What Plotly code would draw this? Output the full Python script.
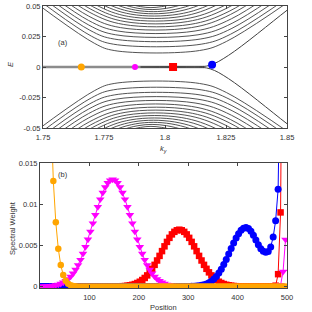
import plotly.graph_objects as go

# ---------------- panel (a): spectrum E(k_y) ----------------
# flat (bulk) level energies, positive side (negative side is the mirror image)
level_E = [0.0135, 0.0187, 0.0229, 0.0264, 0.0295, 0.0323, 0.0349, 0.0372,
           0.0394, 0.0414, 0.0433, 0.0450, 0.0466, 0.0481, 0.0495]
# k where the left edge branch of each level crosses |E| = 0.05
level_kL_top = [1.7500, 1.7528, 1.7555, 1.7580, 1.7605, 1.7630, 1.7655, 1.7678,
                1.7700, 1.7722, 1.7744, 1.7765, 1.7786, 1.7806, 1.7826]
# k where the right edge branch of each level crosses |E| = 0.05
level_kR_top = [1.8467, 1.8440, 1.8410, 1.8380, 1.8350, 1.8320, 1.8295, 1.8266,
                1.8240, 1.8210, 1.8185, 1.8155, 1.8130, 1.8100, 1.8070]
# width of the rounded bend between edge branch and flat level
level_wL = [0.0040, 0.0045, 0.0050, 0.0055, 0.0060, 0.0065, 0.0070, 0.0070,
            0.0070, 0.0070, 0.0070, 0.0070, 0.0070, 0.0070, 0.0070]
level_wR = [0.0055, 0.0060, 0.0065, 0.0070, 0.0075, 0.0080, 0.0080, 0.0080,
            0.0080, 0.0080, 0.0080, 0.0080, 0.0080, 0.0080, 0.0080]
slope_L = 1.45   # |dE/dk| of left edge branches
slope_R = 1.35   # |dE/dk| of right edge branches

# zero-energy band and its splitting near the right edge
zero_flat_k = [1.74, 1.816]
zero_flat_E = [0.0, 0.0]
zero_branch_k = [1.790, 1.812, 1.8185, 1.826, 1.850, 1.860]
zero_branch_E = [0.0, 0.0, 0.0015, 0.0095, 0.0465, 0.0620]

# highlighted states on the zero band
state_k = [1.7657, 1.7877, 1.8033, 1.8193]
state_E = [0.0, 0.0, 0.0, 0.0018]
state_color = ["#FFA500", "#FF00FF", "#FF0000", "#0000FF"]
state_symbol = ["circle", "circle", "square", "circle"]
state_size = [7, 6, 8, 8]

top_xticks = [1.75, 1.775, 1.8, 1.825, 1.85]
top_xtext = ["1.75", "1.775", "1.8", "1.825", "1.85"]
top_yticks = [0.05, 0.025, 0, -0.025, -0.05]
top_ytext = ["0.05", "0.025", "0", "-0.025", "-0.05"]

# ---------------- panel (b): spectral weight vs position ----------------
position = list(range(2, 500, 5))

w_orange = [0.16, 0.10, 0.060, 0.036, 0.0215, 0.0128, 0.0078, 0.0046, 0.0026, 0.0014,
            0.0007, 0.00035, 0.00016, 0.00007, 0.00003, 0, 0, 0, 0, 0,
            0, 0, 0, 0, 0, 0, 0, 0, 0, 0,
            0, 0, 0, 0, 0, 0, 0, 0, 0, 0,
            0, 0, 0, 0, 0, 0, 0, 0, 0, 0,
            0, 0, 0, 0, 0, 0, 0, 0, 0, 0,
            0, 0, 0, 0, 0, 0, 0, 0, 0, 0,
            0, 0, 0, 0, 0, 0, 0, 0, 0, 0,
            0, 0, 0, 0, 0, 0, 0, 0, 0, 0,
            0, 0, 0, 0, 0, 0, 0, 0, 0, 0]

w_magenta = [0.00001, 0.00001, 0.00002, 0.00005, 0.00008, 0.00011, 0.00017, 0.00024, 0.00035, 0.00049,
             0.00067, 0.00091, 0.00121, 0.00159, 0.00205, 0.00260, 0.00324, 0.00398, 0.00481, 0.00572,
             0.00668, 0.00768, 0.00869, 0.00967, 0.01059, 0.01140, 0.01207, 0.01258, 0.01289, 0.01300,
             0.01289, 0.01258, 0.01207, 0.01140, 0.01059, 0.00967, 0.00869, 0.00768, 0.00668, 0.00572,
             0.00481, 0.00398, 0.00324, 0.00260, 0.00205, 0.00159, 0.00121, 0.00091, 0.00067, 0.00049,
             0.00035, 0.00024, 0.00017, 0.00011, 0.00008, 0.00005, 0.00002, 0.00001, 0.00001, 0,
             0, 0, 0, 0, 0, 0, 0, 0, 0, 0,
             0, 0, 0, 0, 0, 0, 0, 0, 0, 0,
             0, 0, 0, 0, 0, 0, 0, 0, 0, 0,
             0, 0, 0, 0, 0, 0, 0, 0.0002, 0.0018, 0.0057]

w_red = [0, 0, 0, 0, 0, 0, 0, 0, 0, 0,
         0, 0, 0, 0, 0, 0, 0, 0, 0, 0,
         0, 0, 0, 0, 0, 0, 0, 0, 0, 0,
         0, 0, 0.00002, 0.00004, 0.00006, 0.00010, 0.00015, 0.00021, 0.00030, 0.00043,
         0.00058, 0.00079, 0.00104, 0.00135, 0.00172, 0.00215, 0.00263, 0.00316, 0.00372, 0.00430,
         0.00488, 0.00542, 0.00591, 0.00633, 0.00664, 0.00683, 0.00690, 0.00683, 0.00664, 0.00633,
         0.00591, 0.00542, 0.00488, 0.00430, 0.00372, 0.00316, 0.00263, 0.00215, 0.00172, 0.00135,
         0.00104, 0.00079, 0.00058, 0.00043, 0.00030, 0.00021, 0.00015, 0.00010, 0.00006, 0.00004,
         0.00002, 0, 0, 0, 0, 0, 0, 0, 0, 0,
         0, 0, 0, 0, 0, 0.0001, 0.0015, 0.0090, 0.035, 0.09]

w_blue = [0, 0, 0, 0, 0, 0, 0, 0, 0, 0,
          0, 0, 0, 0, 0, 0, 0, 0, 0, 0,
          0, 0, 0, 0, 0, 0, 0, 0, 0, 0,
          0, 0, 0, 0, 0, 0, 0, 0, 0, 0,
          0, 0, 0, 0, 0, 0, 0, 0, 0, 0,
          0, 0, 0, 0, 0, 0, 0, 0, 0, 0,
          0, 0.00002, 0.00003, 0.00005, 0.00009, 0.00014, 0.00021, 0.00031, 0.00046, 0.00065,
          0.00091, 0.00123, 0.00163, 0.00211, 0.00266, 0.00328, 0.00394, 0.00461, 0.00528, 0.00589,
          0.00641, 0.00682, 0.00707, 0.00716, 0.00705, 0.00672, 0.00622, 0.00565, 0.00508, 0.00460,
          0.00428, 0.00415, 0.00425, 0.00480, 0.00600, 0.00800, 0.01180, 0.0190, 0.035, 0.07]

bot_xticks = [100, 200, 300, 400, 500]
bot_yticks = [0, 0.005, 0.01, 0.015]
bot_ytext = ["0", "0.005", "0.01", "0.015"]

# ---------------- figure ----------------
W = H = 312
FONT = "Liberation Sans, Arial, sans-serif"
TXT = "#333333"
AX = "#444444"
BAND = "#404040"

fig = go.Figure()

# energy levels (positive and mirrored negative)
for E, kLt, kRt, wL, wR in zip(level_E, level_kL_top, level_kR_top, level_wL, level_wR):
    kcL = kLt + (0.05 - E) / slope_L
    kcR = kRt - (0.05 - E) / slope_R
    ks = [kLt - 0.04 / slope_L, kcL - wL, kcL + wL, kcR - wR, kcR + wR, kRt + 0.04 / slope_R]
    es = [0.09, E + slope_L * wL, E, E, E + slope_R * wR, 0.09]
    for sgn in (1, -1):
        fig.add_trace(go.Scatter(
            x=ks, y=[sgn * e for e in es], mode="lines",
            line=dict(color=BAND, width=0.9, shape="spline", smoothing=1.0),
            xaxis="x", yaxis="y", showlegend=False, hoverinfo="skip"))

# zero band
fig.add_trace(go.Scatter(x=zero_flat_k, y=zero_flat_E, mode="lines",
                         line=dict(color="#8c8c8c", width=2.4),
                         xaxis="x", yaxis="y", showlegend=False, hoverinfo="skip"))
for sgn in (1, -1):
    fig.add_trace(go.Scatter(
        x=zero_branch_k, y=[sgn * e for e in zero_branch_E], mode="lines",
        line=dict(color=BAND, width=1.0, shape="spline", smoothing=1.0),
        xaxis="x", yaxis="y", showlegend=False, hoverinfo="skip"))

# highlighted states
for k, e, c, s, z in zip(state_k, state_E, state_color, state_symbol, state_size):
    fig.add_trace(go.Scatter(x=[k], y=[e], mode="markers",
                             marker=dict(color=c, symbol=s, size=z, line=dict(width=0)),
                             xaxis="x", yaxis="y", showlegend=False))

# spectral weights
series = [
    (w_red, "#FF0000", "square", 6.5),
    (w_blue, "#0000FF", "circle", 7),
    (w_magenta, "#FF00FF", "triangle-down", 7.5),
    (w_orange, "#FFA500", "circle", 6.5),
]
for vals, c, s, z in series:
    fig.add_trace(go.Scatter(
        x=position, y=vals, mode="lines+markers",
        line=dict(color=c, width=1),
        marker=dict(color=c, symbol=s, size=z, line=dict(width=0)),
        xaxis="x2", yaxis="y2", showlegend=False, cliponaxis=True))

axis_common = dict(showline=True, linecolor=AX, linewidth=1, mirror="ticks",
                   ticks="inside", ticklen=3, tickcolor=AX, showgrid=False,
                   zeroline=False, automargin=False,
                   tickfont=dict(family=FONT, size=7.5, color=TXT))

fig.update_layout(
    width=W, height=H,
    margin=dict(l=0, r=0, t=0, b=0),
    paper_bgcolor="white", plot_bgcolor="white",
    xaxis=dict(domain=[43 / W, 287 / W], range=[1.75, 1.85], anchor="y",
               tickmode="array", tickvals=top_xticks, ticktext=top_xtext,
               ticklabelstandoff=2, **axis_common),
    yaxis=dict(domain=[1 - 128 / H, 1 - 6 / H], range=[-0.05, 0.05], anchor="x",
               tickmode="array", tickvals=top_yticks, ticktext=top_ytext, **axis_common),
    xaxis2=dict(domain=[40 / W, 287 / W], range=[0, 500], anchor="y2",
                tickmode="array", tickvals=bot_xticks, ticklabelstandoff=2, **axis_common),
    yaxis2=dict(domain=[1 - 288 / H, 1 - 163 / H], range=[-0.00018, 0.015], anchor="x2",
                tickmode="array", tickvals=bot_yticks, ticktext=bot_ytext, **axis_common),
    showlegend=False,
)

ann_font = dict(family=FONT, size=7.5, color=TXT)
def label(text, px, py, angle=0):
    fig.add_annotation(text=text, x=px / W, y=1 - py / H, xref="paper", yref="paper",
                       xanchor="center", yanchor="middle", textangle=angle,
                       showarrow=False, font=ann_font)

label("<i>E</i>", 11, 64, -90)
label("<i>k<sub>y</sub></i>", 163, 149)
label("Spectral Weight", 12, 228, -90)
label("Position", 163, 307)
label("(a)", 63, 43)
label("(b)", 63, 174)

fig.write_html("out.html", config={"displayModeBar": False},
               post_script="document.body.style.margin='0';document.body.style.padding='0';")
